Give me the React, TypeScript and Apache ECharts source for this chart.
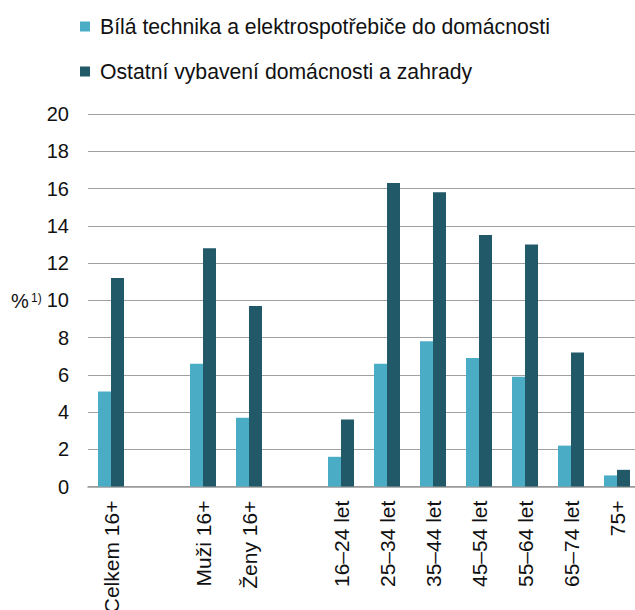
import React, { useEffect, useRef } from "react";
import * as echarts from "echarts";

const categories = ["Celkem 16+", " ", "Muži 16+", "Ženy 16+", "  ", "16–24 let", "25–34 let", "35–44 let", "45–54 let", "55–64 let", "65–74 let", "75+"];
const seriesNames = ["Bílá technika a elektrospotřebiče do domácnosti", "Ostatní vybavení domácnosti a zahrady"];
const whiteGoods = [5.1, null, 6.6, 3.7, null, 1.6, 6.6, 7.8, 6.9, 5.9, 2.2, 0.6];
const otherEquipment = [11.2, null, 12.8, 9.7, null, 3.6, 16.3, 15.8, 13.5, 13.0, 7.2, 0.9];
const colors = ["#4BACC6", "#215968"];

export default function App() {
  const ref = useRef<HTMLDivElement>(null);
  useEffect(() => {
    if (!ref.current) return;
    const chart = echarts.init(ref.current, null, { renderer: "svg" });
    const font = "'Liberation Sans', Arial, sans-serif";
    const textColor = "#111";
    chart.setOption({
      animation: false,
      textStyle: { fontFamily: font },
      legend: {
        orient: "vertical",
        left: 80,
        top: 16,
        padding: 0,
        itemWidth: 10,
        itemHeight: 10,
        itemGap: 24,
        icon: "rect",
        textStyle: { fontSize: 21.2, color: textColor, fontFamily: font, padding: [0, 0, 0, 5] },
        data: seriesNames,
      },
      grid: { left: 88, top: 114, bottom: 123.4, right: -5, outerBoundsMode: "none", containLabel: false },
      xAxis: {
        type: "category",
        data: categories,
        axisLine: { lineStyle: { color: "#999", width: 1.5 } },
        axisTick: { show: false },
        axisLabel: {
          rotate: 90,
          interval: 0,
          fontSize: 21,
          color: textColor,
          fontFamily: font,
          margin: 14,
        },
      },
      yAxis: {
        type: "value",
        min: 0,
        max: 20,
        interval: 2,
        axisLine: { show: false },
        axisTick: { show: false },
        splitLine: { lineStyle: { color: "#a0a0a0", width: 1 } },
        axisLabel: { fontSize: 20, color: textColor, fontFamily: font, margin: 19 },
      },
      graphic: [
        { type: "text", left: 11, top: 291, style: { text: "%", fontSize: 20, fill: textColor, fontFamily: font } },
        { type: "text", left: 31, top: 292, style: { text: "1)", fontSize: 12, fill: textColor, fontFamily: font } },
      ],
      series: [
        {
          name: seriesNames[0],
          type: "bar",
          data: whiteGoods,
          barWidth: 13,
          barGap: "0%",
          itemStyle: { color: colors[0] },
        },
        {
          name: seriesNames[1],
          type: "bar",
          data: otherEquipment,
          barWidth: 13,
          barGap: "0%",
          itemStyle: { color: colors[1] },
        },
      ],
    });
    return () => chart.dispose();
  }, []);
  return <div ref={ref} style={{ width: 635, height: 610, position: "absolute", left: 0, top: 0 }} />;
}
